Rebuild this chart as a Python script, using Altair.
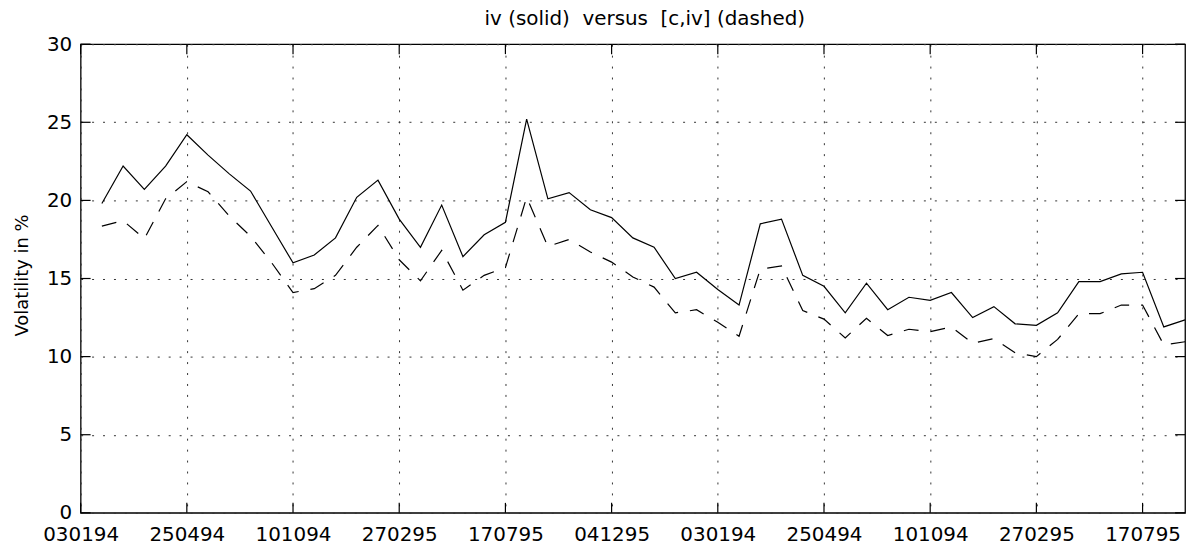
import altair as alt
import pandas as pd

# observation index (5 observations between labelled dates)
obs = list(range(1, 53))

# implied volatility (solid)
iv = [19.8, 22.2, 20.7, 22.2, 24.2, 22.9, 21.7, 20.6, 18.3, 16.0,
      16.5, 17.6, 20.2, 21.3, 18.8, 17.0, 19.7, 16.4, 17.8, 18.6,
      25.2, 20.1, 20.5, 19.4, 18.9, 17.6, 17.0, 15.0, 15.4, 14.3,
      13.3, 18.5, 18.8, 15.2, 14.5, 12.8, 14.7, 13.0, 13.8, 13.6,
      14.1, 12.5, 13.2, 12.1, 12.0, 12.8, 14.8, 14.8, 15.3, 15.4,
      11.9, 12.35]

# [c,iv] (dashed)
civ = [18.35, 18.7, 17.55, 20.1, 21.2, 20.55, 19.0, 17.7, 16.0, 14.1,
       14.35, 15.2, 17.0, 18.4, 16.2, 14.85, 16.8, 14.25, 15.2, 15.7,
       20.2, 17.05, 17.5, 16.7, 16.05, 15.1, 14.45, 12.8, 13.0, 12.2,
       11.3, 15.6, 15.8, 12.95, 12.4, 11.2, 12.45, 11.35, 11.75, 11.6,
       11.9, 10.85, 11.15, 10.25, 10.0, 11.1, 12.75, 12.75, 13.3, 13.3,
       10.75, 10.95]

x_ticks = [0, 5, 10, 15, 20, 25, 30, 35, 40, 45, 50]
x_tick_labels = ["030194", "250494", "101094", "270295", "170795", "041295",
                 "030194", "250494", "101094", "270295", "170795"]
y_ticks = [0, 5, 10, 15, 20, 25, 30]

W, H = 1110, 471
FONT = "DejaVu Sans"
TL = 10  # inward tick length

df_iv = pd.DataFrame({"obs": obs, "vol": iv})
df_civ = pd.DataFrame({"obs": obs, "vol": civ})
df_xt = pd.DataFrame({"t": x_ticks})
df_yt = pd.DataFrame({"t": y_ticks})

label_arr = "[" + ",".join("'%s'" % s for s in x_tick_labels) + "]"

xscale = alt.Scale(domain=[0, 52], nice=False, zero=False)
yscale = alt.Scale(domain=[0, 30], nice=False, zero=False)

x_axis = alt.Axis(values=x_ticks, labelExpr=label_arr + "[round(datum.value/5)]",
                  title=None, grid=True, gridDash=[2, 9], gridColor="#333333",
                  gridWidth=1, ticks=False, domain=False, labelFont=FONT,
                  labelFontSize=20, labelColor="black", labelPadding=12,
                  labelFlush=False, labelOverlap=False, labelBound=False)
y_axis = alt.Axis(values=y_ticks, title="Volatility in %", grid=True,
                  gridDash=[2, 9], gridColor="#333333", gridWidth=1,
                  ticks=False, domain=False, labelFont=FONT, labelFontSize=20,
                  labelColor="black", labelPadding=9, labelFlush=False,
                  labelOverlap=False, labelBound=False,
                  titleFont=FONT, titleFontSize=18, titleFontWeight="normal",
                  titleColor="black", titleAngle=270, titleX=-58, titleY=232,
                  titleAlign="center", titleBaseline="middle")

solid = alt.Chart(df_iv).mark_line(color="black", strokeWidth=1.2).encode(
    x=alt.X("obs:Q", scale=xscale, axis=x_axis),
    y=alt.Y("vol:Q", scale=yscale, axis=y_axis),
)
dashed = alt.Chart(df_civ).mark_line(color="black", strokeWidth=1.2,
                                     strokeDash=[15, 12]).encode(
    x=alt.X("obs:Q", scale=xscale),
    y=alt.Y("vol:Q", scale=yscale),
)

tick_style = dict(color="black", strokeWidth=1.2)
bt = alt.Chart(df_xt).mark_rule(**tick_style).encode(
    x=alt.X("t:Q", scale=xscale), y=alt.value(H), y2=alt.value(H - TL))
tt = alt.Chart(df_xt).mark_rule(**tick_style).encode(
    x=alt.X("t:Q", scale=xscale), y=alt.value(0), y2=alt.value(TL))
lt = alt.Chart(df_yt).mark_rule(**tick_style).encode(
    y=alt.Y("t:Q", scale=yscale), x=alt.value(0), x2=alt.value(TL))
rt = alt.Chart(df_yt).mark_rule(**tick_style).encode(
    y=alt.Y("t:Q", scale=yscale), x=alt.value(W), x2=alt.value(W - TL))

chart = alt.layer(solid, dashed, bt, tt, lt, rt).properties(
    width=W, height=H,
    title=alt.TitleParams("iv (solid)\u00a0\u00a0versus\u00a0\u00a0[c,iv] (dashed)",
                          font=FONT, fontSize=20, fontWeight="normal",
                          color="black", anchor="middle", offset=5, dx=12),
    padding={"left": 73, "top": 35, "right": 10, "bottom": 36},
    autosize="none",
    background="white",
).configure_view(stroke="black", strokeWidth=1.3)

chart.save("out.html", embed_options={"renderer": "svg", "actions": False})
